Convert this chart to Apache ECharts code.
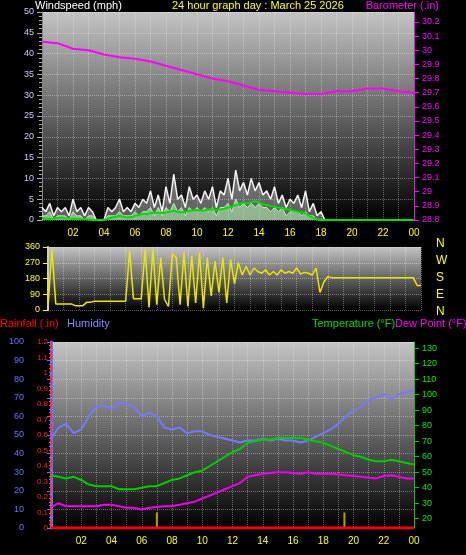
<!DOCTYPE html>
<html><head><meta charset="utf-8">
<script src="https://cdn.jsdelivr.net/npm/echarts@6/dist/echarts.min.js"></script>
<style>html,body{margin:0;background:#000}#c{width:466px;height:555px}</style></head>
<body><div id="c"></div>
<script>
// wind (15-min samples from 00:00 to 18:00 then calm)
const windGust=[3,2,4,1,3,2,3,1, 5,2,3,1,3,2,0,0, 0,3,2,3,5,2,3,2, 4,3,5,4,7,3,6,2, 8,4,11,5,6,3,8,5, 6,4,7,5,8,3,7,6, 10,5,12,7,9,6,10,7, 9,6,7,5,8,4,6,3, 5,4,6,3,7,2,4,1, 2,0];
const windSpeed=[1,1,2,0,1,1,1,0, 2,1,1,0,1,1,0,0, 0,1,1,1,2,1,1,1, 2,1,2,2,3,1,3,1, 3,2,4,2,3,1,3,2, 3,2,3,2,3,1,3,3, 4,2,5,3,4,3,4,3, 4,3,3,2,3,2,3,1, 2,2,2,1,2,1,1,0, 0,0];
const windAvg=[0.5,0.3,0.2,0.3,0.5,0.6,0.4,0.3, 0.3,0.2,0.2,0.2,0.1,0,0,0, 0,0.3,0.6,0.8,1,0.8,0.6,0.7, 1,1.2,1.5,1.4,1.6,1.8,1.7,1.6, 1.8,2,2.2,2,1.8,2,2.2,2.3, 2.4,2.2,2.3,2.5,2.6,2.4,2.5,2.7, 3,3.2,3.6,3.8,4.2,4,4.3,4.5, 4.2,3.8,3.6,3.4,3.2,3,2.8,2.6, 2.4,2.2,2,1.8,1.6,1,0.5,0.2, 0,0];
const windHoursEnd=24;
// barometer hourly 00..24
const baro=[30.06,30.05,30.01,30.00,29.97,29.95,29.94,29.92,29.89,29.86,29.83,29.80,29.78,29.75,29.72,29.71,29.70,29.69,29.69,29.71,29.71,29.73,29.73,29.71,29.70];
// wind direction 15-min samples
const windDir=[15,350,35,35,35,35,35,25,25,25,45,45,50,50,50,50,50,50,50,50,50,340,65,65,65,350,15,350,30,300,60,20,320,300,30,330,20,310,40,330,10,300,80,280,100,300,40,290,150,270,200,250,200,240,220,210,230,200,220,200,230,210,220,210,240,205,215,210,200,240,100,160,190,185,185,185,185,185,185,185,185,185,185,185,185,185,185,185,185,185,185,185,185,185,185,140,140];
// half-hourly 00..24
const humidity=[48,54,56,51,53,60,65,66,64,67,67,65,60,62,60,54,53,54,51,52,52,50,49,48,47,46,47,47,48,47,48,47,47,46,47,49,51,53,56,60,63,65,69,70,72,69,72,73,74];
const temperature=[48,47,46,47,45,42,41,41,41,39,39,39,40,41,41,43,45,46,48,50,51,54,57,60,63,65,69,70,71,71,72,72,72,72,71,70,69,67,65,63,61,60,58,57,57,58,57,56,55];
const dewPoint=[27.5,30,28,28,28,28,28,29,29,28,27,27,26,27,27.5,28,28,29,30,31,33,35,37,39,41,43,47,48,49,49.5,50,50,49.5,49,50,49,49,49,48.5,48,47.5,47,46.5,46,47.5,48,47,46,46];
const rainfall=[0,0];
const marks=[[7,0.1],[19.4,0.1]];
const hourLabels=['00','01','02','03','04','05','06','07','08','09','10','11','12','13','14','15','16','17','18','19','20','21','22','23','00'];

const pair=(arr,step)=>arr.map((v,i)=>[i*step,v]);
const windGustP=pair(windGust,0.25).concat([[windHoursEnd,0]]);
const windSpeedP=pair(windSpeed,0.25).concat([[windHoursEnd,0]]);
const windAvgP=pair(windAvg,0.25).concat([[windHoursEnd,0]]);

const bg=()=>({type:'linear',x:0,y:0,x2:0,y2:1,colorStops:[{offset:0,color:'#c4c4c4'},{offset:1,color:'#000'}]});
const split={show:true,lineStyle:{color:'rgba(255,255,255,0.35)',type:'dotted'}};
function xAx(gi,showLab){return {type:'value',gridIndex:gi,min:0,max:24,interval:1,
 axisLine:{show:false},axisTick:{show:false},splitLine:split,
 axisLabel:{show:showLab,color:'#ffff00',fontSize:10,fontFamily:'Liberation Sans',margin:8,
 formatter:v=>(v%2===0&&v>0)?hourLabels[v]:''}};}
const chart=echarts.init(document.getElementById('c'));
chart.setOption({
 backgroundColor:'#000',animation:false,
 grid:[
  {left:42,right:52,top:12,height:208,show:true,backgroundColor:bg(),borderWidth:0},
  {left:48,right:45,top:247,height:63,show:true,backgroundColor:bg(),borderWidth:0},
  {left:51,right:52,top:342,height:186,show:true,backgroundColor:bg(),borderWidth:0}],
 xAxis:[xAx(0,true),xAx(1,false),xAx(2,true)],
 yAxis:[
  {type:'value',gridIndex:0,position:'left',min:0,max:50,interval:5,splitLine:split,
   axisLine:{show:true,lineStyle:{color:'#888'}},axisTick:{show:true,lineStyle:{color:'#aaa'}},
   minorTick:{show:true,splitNumber:5,lineStyle:{color:'#aaa'}},
   axisLabel:{color:'#ccccff',fontSize:9,fontFamily:'Liberation Sans'}},
  {type:'value',gridIndex:0,position:'right',min:28.8,max:30.27,splitLine:{show:false},
   axisLine:{show:true,lineStyle:{color:'#ff00ff'}},
   axisTick:{show:true,customValues:[28.8,28.9,29,29.1,29.2,29.3,29.4,29.5,29.6,29.7,29.8,29.9,30,30.1,30.2]},
   axisLabel:{color:'#ff00ff',fontSize:9,fontFamily:'Liberation Sans',customValues:[28.8,28.9,29,29.1,29.2,29.3,29.4,29.5,29.6,29.7,29.8,29.9,30,30.1,30.2],formatter:v=>String(+v.toFixed(1))}},
  {type:'value',gridIndex:1,position:'left',min:0,max:360,interval:90,splitLine:split,
   axisLine:{show:true,lineStyle:{color:'#ccc',width:2}},axisTick:{show:true,lineStyle:{color:'#ff0'}},
   axisLabel:{color:'#ffff00',fontSize:9,fontFamily:'Liberation Sans'}},
  {type:'value',gridIndex:2,position:'left',min:0,max:100,interval:10,offset:21,splitLine:split,
   axisLine:{show:true,lineStyle:{color:'#7070ff',width:3}},axisTick:{show:true,length:4,lineStyle:{color:'#7070ff'}},
   minorTick:{show:true,splitNumber:5,length:2,lineStyle:{color:'#7070ff'}},
   axisLabel:{color:'#7070ff',fontSize:9,fontFamily:'Liberation Sans',margin:6}},
  {type:'value',gridIndex:2,position:'left',offset:0,min:0,max:1.2,interval:0.1,splitLine:{show:false},
   axisLine:{show:true,lineStyle:{color:'#ff3030',type:'dashed',width:2}},axisTick:{show:false},
   axisLabel:{color:'#ff2020',fontSize:8,fontFamily:'Liberation Sans',margin:3,formatter:v=>String(+v.toFixed(1))}},
  {type:'value',gridIndex:2,position:'right',min:14,max:134,splitLine:{show:false},
   axisLine:{show:true,lineStyle:{color:'#00cc00'}},
   axisTick:{show:true,customValues:[20,30,40,50,60,70,80,90,100,110,120,130]},
   axisLabel:{color:'#00ee00',fontSize:9,fontFamily:'Liberation Sans',customValues:[20,30,40,50,60,70,80,90,100,110,120,130]}}
 ],
 series:[
  {type:'line',xAxisIndex:0,yAxisIndex:0,data:windGustP,symbol:'none',lineStyle:{color:'#f4f4f4',width:1.5},areaStyle:{color:'rgba(240,240,240,0.55)'}},
  {type:'line',xAxisIndex:0,yAxisIndex:0,data:windSpeedP,symbol:'none',lineStyle:{color:'#b8f0b8',width:1},areaStyle:{color:'rgba(180,240,180,0.85)'}},
  {type:'line',xAxisIndex:0,yAxisIndex:0,data:windAvgP,symbol:'none',lineStyle:{color:'#00dd00',width:2}},
  {type:'line',xAxisIndex:0,yAxisIndex:1,data:pair(baro,1),symbol:'none',lineStyle:{color:'#ff00ff',width:2}},
  {type:'line',xAxisIndex:1,yAxisIndex:2,data:pair(windDir,0.25),symbol:'none',lineStyle:{color:'#e8e800',width:1.5}},
  {type:'line',xAxisIndex:2,yAxisIndex:3,data:pair(humidity,0.5),symbol:'none',lineStyle:{color:'#7878ff',width:2}},
  {type:'line',xAxisIndex:2,yAxisIndex:4,data:pair(rainfall,24),symbol:'none',lineStyle:{color:'#ff0000',width:3}},
  {type:'bar',xAxisIndex:2,yAxisIndex:4,data:marks,barWidth:2,itemStyle:{color:'#b0a000'}},
  {type:'line',xAxisIndex:2,yAxisIndex:5,data:pair(temperature,0.5),symbol:'none',lineStyle:{color:'#00cc00',width:2}},
  {type:'line',xAxisIndex:2,yAxisIndex:5,data:pair(dewPoint,0.5),symbol:'none',lineStyle:{color:'#ee00ee',width:2}}
 ],
 graphic:[
  {type:'text',left:35,top:0,style:{text:'Windspeed (mph)',fill:'#fff',font:'11px Liberation Sans'}},
  {type:'text',left:172,top:0,style:{text:'24 hour graph day : March 25 2026',fill:'#ffff00',font:'11px Liberation Sans'}},
  {type:'text',right:27,top:0,style:{text:'Barometer (.in)',fill:'#ff00ff',font:'11px Liberation Sans'}},
  {type:'text',left:0,top:318,style:{text:'Rainfall (.in)',fill:'#ff0000',font:'11px Liberation Sans'}},
  {type:'text',left:67,top:318,style:{text:'Humidity',fill:'#8888ff',font:'11px Liberation Sans'}},
  {type:'text',left:312,top:318,style:{text:'Temperature (°F)',fill:'#00dd00',font:'11px Liberation Sans'}},
  {type:'text',left:395,top:318,style:{text:'Dew Point (°F)',fill:'#ff00ff',font:'11px Liberation Sans'}},
  ...['N','W','S','E','N'].map((t,i)=>({type:'text',left:436,top:238+i*17,style:{text:t,fill:'#ffff00',font:'12px Liberation Sans'}}))
 ]
});
</script></body></html>
